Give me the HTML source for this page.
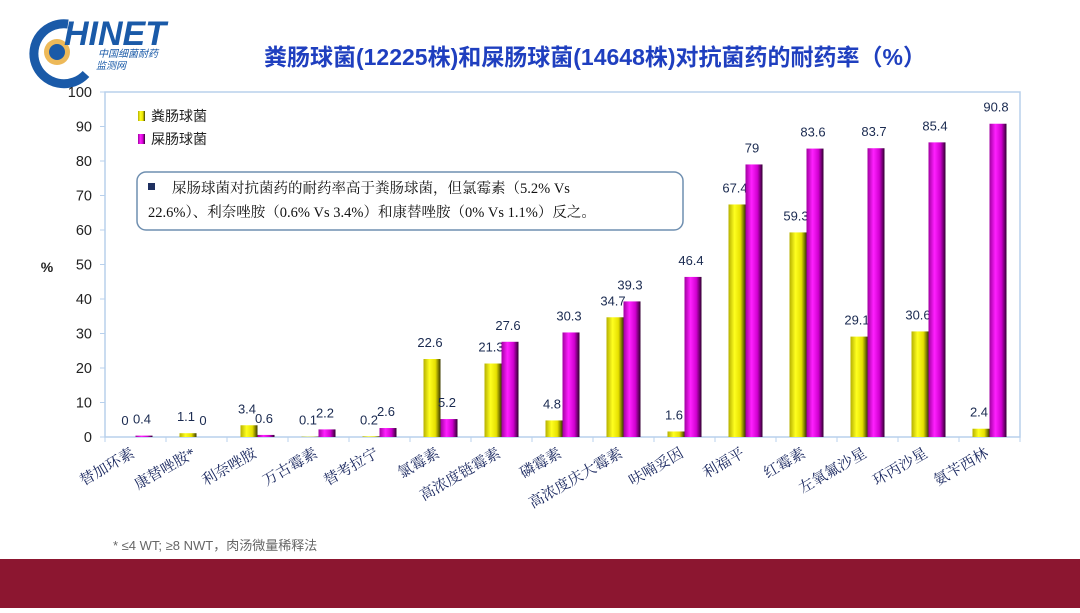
<!DOCTYPE html>
<html><head><meta charset="utf-8">
<style>
body{margin:0;width:1080px;height:608px;overflow:hidden;background:#fff;font-family:"Liberation Sans","Noto Sans CJK SC",sans-serif;}
</style></head>
<body>
<svg width="1080" height="608" viewBox="0 0 1080 608" xmlns="http://www.w3.org/2000/svg">
<defs>
<linearGradient id="gy" x1="0" x2="1" y1="0" y2="0">
<stop offset="0" stop-color="#b5b000"/><stop offset="0.35" stop-color="#ffff20"/><stop offset="0.7" stop-color="#e6e000"/><stop offset="1" stop-color="#3a3a00"/>
</linearGradient>
<linearGradient id="gm" x1="0" x2="1" y1="0" y2="0">
<stop offset="0" stop-color="#a000a0"/><stop offset="0.35" stop-color="#ff20ff"/><stop offset="0.7" stop-color="#d000d0"/><stop offset="1" stop-color="#300030"/>
</linearGradient>
</defs>
<g>
<path d="M68 24 A30 30 0 1 0 86 74" fill="none" stroke="#1a5aa8" stroke-width="9"/>
<circle cx="57" cy="52" r="13" fill="#e8a830" opacity="0.8"/>
<circle cx="57" cy="52" r="8" fill="#1a5aa8"/>
<text x="64" y="45" font-size="34" font-weight="bold" font-style="italic" fill="#1a5aa8" font-family="Liberation Sans,sans-serif">HINET</text>
<text x="98" y="57" font-size="10" font-style="italic" fill="#1a5aa8">中国细菌耐药</text>
<text x="96" y="69" font-size="10" font-style="italic" fill="#1a5aa8">监测网</text>
</g>
<text x="595" y="65" text-anchor="middle" font-size="23" font-weight="bold" fill="#1f3fbf">粪肠球菌(12225株)和屎肠球菌(14648株)对抗菌药的耐药率（%）</text>
<rect x="105" y="92" width="915" height="345" fill="none" stroke="#b8d0ec" stroke-width="1.5"/>
<g id="yaxis"></g>
<g id="xaxis"></g>
<g id="bars"></g>
<text x="47" y="272" text-anchor="middle" font-size="14" font-weight="bold" fill="#222">%</text>
<g>
<rect x="138" y="111" width="7" height="10" fill="url(#gy)"/>
<text x="151" y="121" font-size="14" fill="#222">粪肠球菌</text>
<rect x="138" y="134" width="7" height="10" fill="url(#gm)"/>
<text x="151" y="144" font-size="14" fill="#222">屎肠球菌</text>
</g>
<g>
<rect x="137" y="172" width="546" height="58" rx="9" fill="#fff" stroke="#6f8fb0" stroke-width="1.5"/>
<rect x="148" y="183" width="7" height="7" fill="#1f3060"/>
<text x="172" y="193" font-size="14.5" fill="#111" font-family="Liberation Serif,Noto Serif CJK SC,serif">屎肠球菌对抗菌药的耐药率高于粪肠球菌，但氯霉素（5.2% Vs</text>
<text x="148" y="217" font-size="14.5" fill="#111" font-family="Liberation Serif,Noto Serif CJK SC,serif">22.6%）、利奈唑胺（0.6% Vs 3.4%）和康替唑胺（0% Vs 1.1%）反之。</text>
</g>
<text x="113" y="550" font-size="13" fill="#666">* ≤4 WT; ≥8 NWT，肉汤微量稀释法</text>
<rect x="0" y="559" width="1080" height="49" fill="#8c1630"/>
</svg>
<script>
const categories=["替加环素","康替唑胺*","利奈唑胺","万古霉素","替考拉宁","氯霉素","高浓度链霉素","磷霉素","高浓度庆大霉素","呋喃妥因","利福平","红霉素","左氧氟沙星","环丙沙星","氨苄西林"];
const faecalis=[0,1.1,3.4,0.1,0.2,22.6,21.3,4.8,34.7,1.6,67.4,59.3,29.1,30.6,2.4];
const faecium=[0.4,0,0.6,2.2,2.6,5.2,27.6,30.3,39.3,46.4,79,83.6,83.7,85.4,90.8];
const yTicks=[0,10,20,30,40,50,60,70,80,90,100];
const NS="http://www.w3.org/2000/svg";
const L=105,R=1020,T=92,B=437;
const bw=(R-L)/categories.length;
const y=v=>B-(v/100)*(B-T);
const x=i=>L+bw*i;
function mk(tag,attrs,parent,txt){const e=document.createElementNS(NS,tag);for(const k in attrs)e.setAttribute(k,attrs[k]);if(txt!==undefined)e.textContent=txt;parent.appendChild(e);return e;}
const ya=document.getElementById('yaxis'),xa=document.getElementById('xaxis'),bg=document.getElementById('bars');
yTicks.forEach(t=>{
 const tx=mk('text',{x:92,y:y(t)+5,'text-anchor':'end','font-size':14.5,fill:'#222'},ya,String(t));
 
 
 const tk=mk('line',{x1:100,x2:105,y1:y(t),y2:y(t),stroke:'#b8d0ec'},ya);
 
 
});
for(let i=0;i<=categories.length;i++){
 const tk=mk('line',{x1:x(i),x2:x(i),y1:B,y2:B+5,stroke:'#b8d0ec'},xa);
 
 
}
categories.forEach((c,i)=>{
 const cx=x(i)+bw/2;
 const tx=mk('text',{x:cx,y:B+19,'text-anchor':'end','font-size':15,fill:'#1a2860','font-family':'Liberation Serif,Noto Serif CJK SC,serif',transform:`rotate(-30 ${cx} ${B+19})`},xa,c);
 
 
 const w=17;
 [[faecalis[i],cx-w,'url(#gy)','bar-faecalis','value-label-faecalis'],[faecium[i],cx,'url(#gm)','bar-faecium','value-label-faecium']].forEach(([v,bx,f,n,ln])=>{
  const r=mk('rect',{x:bx,y:y(v),width:w,height:B-y(v),fill:f},bg);
  
  
  const lb=mk('text',{x:bx+w/2-2,y:y(v)-12,'text-anchor':'middle','font-size':13,fill:'#1a2a50'},bg,String(v));
  
  
 });
});
</script>
</body></html>
